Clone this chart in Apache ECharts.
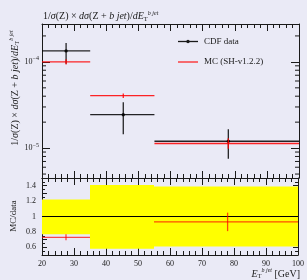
<!DOCTYPE html>
<html>
<head>
<meta charset="utf-8">
<script src="https://cdn.jsdelivr.net/npm/echarts@6/dist/echarts.min.js"></script>
<style>
  html, body { margin: 0; padding: 0; background: #eaeaf6; }
  #chart { width: 307px; height: 280px; }
</style>
</head>
<body>
<div id="chart"></div>
<script>
// bins in E_T (GeV)
var binLo = [20, 35, 55];
var binHi = [35, 55, 100];
var binX = [27.5, 45.3, 78];

// CDF data
var cdfVal = [1.34e-4, 2.44e-5, 1.2e-5];
var cdfLo = [0.95e-4, 1.45e-5, 7.5e-6];
var cdfHi = [1.66e-4, 3.4e-5, 1.65e-5];

// MC (SH-v1.2.2)
var mcVal = [1.0e-4, 4.06e-5, 1.13e-5];
var mcLo = [0.935e-4, 3.8e-5, 0.98e-5];
var mcHi = [1.07e-4, 4.3e-5, 1.3e-5];

// ratio panel
var ratioVal = [0.73, 1.66, 0.93];
var ratioLo = [0.69, 1.6, 0.81];
var ratioHi = [0.77, 1.72, 1.05];
var bandLo = [0.77, 0.58, 0.61];
var bandHi = [1.22, 1.41, 1.39];
var ratioTicks = [0.6, 0.8, 1, 1.2, 1.4];

// minor ticks of the log axis
var logMinor = [5e-6, 6e-6, 7e-6, 8e-6, 9e-6, 2e-5, 3e-5, 4e-5, 5e-5, 6e-5, 7e-5, 8e-5, 9e-5, 2e-4];

var FONT = 'Liberation Serif';
var INK = '#1a1a1a';

function rows(v, lo, hi) {
    var out = [];
    for (var i = 0; i < binLo.length; i++) {
        out.push([binLo[i], binHi[i], binX[i], v[i], lo[i], hi[i]]);
    }
    return out;
}

function binRender(color, width, dot) {
    return function (params, api) {
        var a = api.coord([api.value(0), api.value(3)]);
        var b = api.coord([api.value(1), api.value(3)]);
        var t = api.coord([api.value(2), api.value(5)]);
        var u = api.coord([api.value(2), api.value(4)]);
        var st = { stroke: color, lineWidth: width };
        var kids = [
            { type: 'line', shape: { x1: a[0], y1: a[1], x2: b[0], y2: b[1] }, style: st },
            { type: 'line', shape: { x1: t[0], y1: t[1], x2: u[0], y2: u[1] }, style: st }
        ];
        if (dot) {
            var c = api.coord([api.value(2), api.value(3)]);
            kids.push({ type: 'circle', shape: { cx: c[0], cy: c[1], r: 1.7 }, style: { fill: color } });
        }
        return { type: 'group', children: kids };
    };
}

var chart = echarts.init(document.getElementById('chart'));

var axisLineSt = { show: true, lineStyle: { color: INK, width: 1 } };

function xAx(grid, pos, labels) {
    return {
        type: 'value', gridIndex: grid, position: pos, min: 20, max: 100, interval: 10,
        axisLine: axisLineSt,
        axisTick: { inside: true, length: 7, lineStyle: { color: INK } },
        minorTick: { show: true, splitNumber: 5, length: 4, lineStyle: { color: INK } },
        axisLabel: { show: labels, fontFamily: FONT, fontSize: 8, color: INK, margin: 5 },
        splitLine: { show: false }
    };
}

var logLabel = {
    fontFamily: FONT, color: INK, margin: 3,
    formatter: function (v) {
        var l = Math.log10(v), e = Math.round(l);
        if (Math.abs(l - e) > 1e-6) return '';
        return '{b|10}{s|−' + (-e) + '}';
    },
    rich: {
        b: { fontSize: 8, fontFamily: FONT, color: INK },
        s: { fontSize: 6, fontFamily: FONT, color: INK, padding: [0, 0, 6, 0] }
    }
};

function yLog(pos, labels) {
    return {
        type: 'log', gridIndex: 0, position: pos, min: 4.5e-6, max: 2.75e-4,
        axisLine: axisLineSt,
        axisTick: { inside: true, length: 8, lineStyle: { color: INK } },
        axisLabel: labels ? logLabel : { show: false },
        splitLine: { show: false }
    };
}

function yRatio(pos, labels) {
    return {
        type: 'value', gridIndex: 1, position: pos, min: 0.5, max: 1.5, interval: 0.1,
        axisLine: axisLineSt,
        axisTick: { inside: true, length: 5, lineStyle: { color: INK } },
        minorTick: { show: true, splitNumber: 2, length: 3, lineStyle: { color: INK } },
        axisLabel: {
            show: labels, fontFamily: FONT, fontSize: 8, color: INK, margin: 6,
            customValues: ratioTicks
        },
        splitLine: { show: false }
    };
}

var mathRich = function (size, key) {
    var r = {
        n: { fontFamily: FONT, fontSize: size, fontWeight: 'normal' },
        i: { fontFamily: FONT, fontSize: size, fontStyle: 'italic', fontWeight: 'normal' },
        sub: { fontFamily: FONT, fontSize: 6.5, fontWeight: 'normal', padding: [5, 0, 0, 0] },
        sup: { fontFamily: FONT, fontSize: 6, fontStyle: 'italic', fontWeight: 'normal', padding: [0, 0, 7, 0] }
    };
    for (var k in r) r[k][key] = INK;
    return r;
};

var option = {
    backgroundColor: '#eaeaf6',
    animation: false,
    title: {
        left: 38, top: 5,
        text: '{n|1/}{i|σ}{n|(Z) × }{i|dσ}{n|(Z + }{i|b jet}{n|)/}{i|dE}{sub|T}{sup|b jet}',
        textStyle: { fontWeight: 'normal', rich: mathRich(10, 'color') }
    },
    grid: [
        { left: 42, top: 24, width: 257, height: 154 },
        { left: 42, top: 178, width: 257, height: 77 }
    ],
    xAxis: [xAx(0, 'bottom', false), xAx(0, 'top', false), xAx(1, 'bottom', true), xAx(1, 'top', false)],
    yAxis: [yLog('left', true), yLog('right', false), yRatio('left', true), yRatio('right', false)],
    graphic: [
        {
            type: 'text', x: 15, y: 88, rotation: Math.PI / 2,
            style: {
                text: '{n|1/}{i|σ}{n|(Z) × }{i|dσ}{n|(Z + }{i|b jet}{n|)/}{i|dE}{sub|T}{sup|b jet}',
                align: 'center', verticalAlign: 'middle',
                rich: mathRich(10, 'fill')
            }
        },
        {
            type: 'text', x: 14, y: 216, rotation: Math.PI / 2,
            style: { text: 'MC/data', align: 'center', verticalAlign: 'middle', fontFamily: FONT, fontSize: 9, fill: INK }
        },
        {
            type: 'text', x: 300, y: 274,
            style: {
                text: '{i|E}{sub|T}{sup|b jet}{n| [GeV]}',
                align: 'right', verticalAlign: 'middle',
                rich: mathRich(10, 'fill')
            }
        },
        // legend
        { type: 'line', shape: { x1: 178, y1: 41.5, x2: 198, y2: 41.5 }, style: { stroke: INK, lineWidth: 1.3 } },
        { type: 'circle', shape: { cx: 188, cy: 41.5, r: 1.7 }, style: { fill: INK } },
        { type: 'text', x: 204, y: 41.5, style: { text: 'CDF data', verticalAlign: 'middle', fontFamily: FONT, fontSize: 9, fill: INK } },
        { type: 'line', shape: { x1: 178, y1: 62, x2: 198, y2: 62 }, style: { stroke: 'rgba(255,0,0,0.85)', lineWidth: 1.3 } },
        { type: 'text', x: 204, y: 62, style: { text: 'MC (SH-v1.2.2)', verticalAlign: 'middle', fontFamily: FONT, fontSize: 9, fill: INK } }
    ],
    series: [
        {
            name: 'logMinor', type: 'custom', xAxisIndex: 0, yAxisIndex: 0, silent: true,
            data: logMinor.map(function (v) { return [20, v]; }),
            renderItem: function (params, api) {
                var y = api.coord([20, api.value(1)])[1];
                var cs = params.coordSys;
                var st = { stroke: INK, lineWidth: 1 };
                return {
                    type: 'group', children: [
                        { type: 'line', shape: { x1: cs.x, y1: y, x2: cs.x + 4, y2: y }, style: st },
                        { type: 'line', shape: { x1: cs.x + cs.width - 4, y1: y, x2: cs.x + cs.width, y2: y }, style: st }
                    ]
                };
            }
        },
        {
            name: 'CDF data', type: 'custom', xAxisIndex: 0, yAxisIndex: 0, z: 3,
            data: rows(cdfVal, cdfLo, cdfHi),
            renderItem: binRender('rgba(0,0,0,0.85)', 1.3, true)
        },
        {
            name: 'MC (SH-v1.2.2)', type: 'custom', xAxisIndex: 0, yAxisIndex: 0, z: 4,
            data: rows(mcVal, mcLo, mcHi),
            renderItem: binRender('rgba(255,0,0,0.85)', 1.3, false)
        },
        {
            name: 'band', type: 'custom', xAxisIndex: 2, yAxisIndex: 2, z: 1,
            data: binLo.map(function (v, i) { return [binLo[i], binHi[i], bandLo[i], bandHi[i]]; }),
            renderItem: function (params, api) {
                var p = api.coord([api.value(0), api.value(3)]);
                var q = api.coord([api.value(1), api.value(2)]);
                return { type: 'rect', shape: { x: p[0], y: p[1], width: q[0] - p[0], height: q[1] - p[1] }, style: { fill: '#ffff00' } };
            }
        },
        {
            name: 'unity', type: 'line', xAxisIndex: 2, yAxisIndex: 2, z: 2, symbol: 'none',
            data: [[20, 1], [100, 1]],
            lineStyle: { color: '#000', width: 1.2 }
        },
        {
            name: 'ratio', type: 'custom', xAxisIndex: 2, yAxisIndex: 2, z: 3, clip: true,
            data: rows(ratioVal, ratioLo, ratioHi),
            renderItem: binRender('rgba(255,0,0,0.7)', 1.3, false)
        }
    ]
};

chart.setOption(option);
</script>
</body>
</html>
